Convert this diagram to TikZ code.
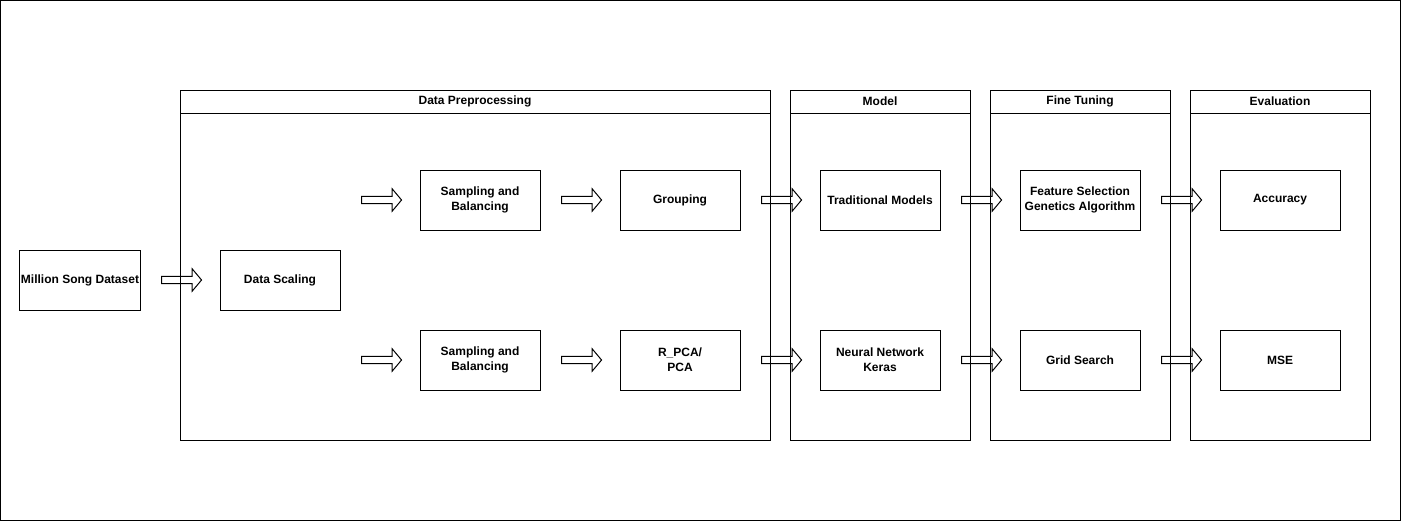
\documentclass[tikz,border=0pt]{standalone}
\usepackage{fontspec}
\setmainfont{Liberation Sans}
\usetikzlibrary{shapes.arrows}

\begin{document}
\begin{tikzpicture}[x=0.75pt,y=0.75pt,yscale=-1,xscale=1,
  every node/.style={font=\bfseries\fontsize{9}{11}\selectfont},
  procbox/.style={draw, line width=0.75pt, minimum width=90pt, minimum height=45pt, align=center, inner sep=0.75pt},
  lane/.style={draw, line width=0.75pt},
  fatarrow/.style={single arrow, draw, line width=0.75pt, minimum height=30pt, inner sep=2.4pt, single arrow head extend=5.6pt, single arrow tip angle=100}]
% canvas
\useasboundingbox (0,0) rectangle (1401,521);
\draw [line width=0.75pt] (0.5,0.5) rectangle (1400,520);

%Shape: Lane Data Preprocessing
\draw [lane] (180,90) rectangle (770,440);
\draw [lane] (180,113) -- (770,113);
\node (prep) at (475,101.5) {Data Preprocessing};
%Shape: Lane Model
\draw [lane] (790,90) rectangle (970,440);
\draw [lane] (790,113) -- (970,113);
\node (model) at (880,101.5) {Model};
%Shape: Lane Fine Tuning
\draw [lane] (990,90) rectangle (1170,440);
\draw [lane] (990,113) -- (1170,113);
\node (tuning) at (1080,101.5) {Fine Tuning};
%Shape: Lane Evaluation
\draw [lane] (1190,90) rectangle (1370,440);
\draw [lane] (1190,113) -- (1370,113);
\node (eval) at (1280,101.5) {Evaluation};

%Shape: Boxes
\node [procbox] (msd) at (80,280) {Million Song Dataset};
\node [procbox] (scaling) at (280,280) {Data Scaling};
\node [procbox] (samptop) at (480,200) {Sampling and\\Balancing};
\node [procbox] (sampbot) at (480,360) {Sampling and\\Balancing};
\node [procbox] (grouping) at (680,200) {Grouping};
\node [procbox] (rpca) at (680,360) {R\_PCA/\\PCA};
\node [procbox] (trad) at (880,200) {Traditional Models};
\node [procbox] (nn) at (880,360) {Neural Network\\Keras};
\node [procbox] (featsel) at (1080,200) {Feature Selection\\Genetics Algorithm};
\node [procbox] (grid) at (1080,360) {Grid Search};
\node [procbox] (acc) at (1280,200) {Accuracy};
\node [procbox] (mse) at (1280,360) {MSE};

%Shape: Block Arrows
\node [fatarrow] (arrmsd) at (180,280) {};
\node [fatarrow] (arrtop1) at (380,200) {};
\node [fatarrow] (arrbot1) at (380,360) {};
\node [fatarrow] (arrtop2) at (580,200) {};
\node [fatarrow] (arrbot2) at (580,360) {};
\node [fatarrow] (arrtop3) at (780,200) {};
\node [fatarrow] (arrbot3) at (780,360) {};
\node [fatarrow] (arrtop4) at (980,200) {};
\node [fatarrow] (arrbot4) at (980,360) {};
\node [fatarrow] (arrtop5) at (1180,200) {};
\node [fatarrow] (arrbot5) at (1180,360) {};
\end{tikzpicture}
\end{document}
